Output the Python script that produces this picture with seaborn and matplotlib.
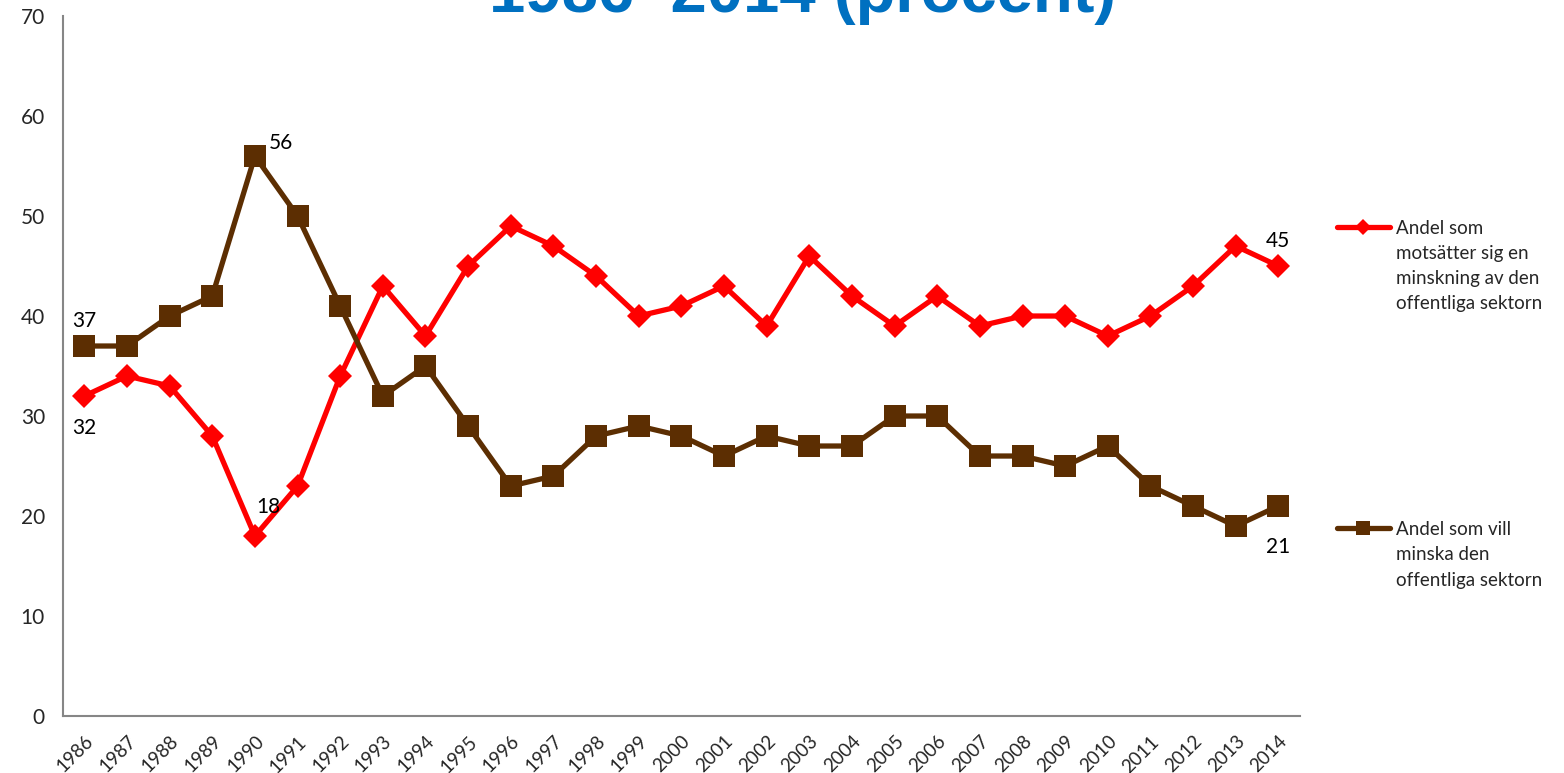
import numpy as np
import pandas as pd
import matplotlib
matplotlib.use("Agg")
import matplotlib.pyplot as plt
import seaborn as sns
from matplotlib.lines import Line2D

years = list(range(1986, 2015))
motsatter = [32, 34, 33, 28, 18, 23, 34, 43, 38, 45, 49, 47, 44, 40, 41,
             43, 39, 46, 42, 39, 42, 39, 40, 40, 38, 40, 43, 47, 45]
minska = [37, 37, 40, 42, 56, 50, 41, 32, 35, 29, 23, 24, 28, 29, 28,
          26, 28, 27, 27, 30, 30, 26, 26, 25, 27, 23, 21, 19, 21]
label_red = ["Andel som", "motsätter sig en", "minskning av den", "offentliga sektorn"]
label_brown = ["Andel som vill", "minska den", "offentliga sektorn"]
title = "1986–2014 (procent)"

red = "#FF0000"
brown = "#5C2E02"

sns.set_style("white")
plt.rcParams['font.family'] = ['Lato', 'DejaVu Sans']

df = pd.DataFrame({
    "pos": list(range(len(years))) * 2,
    "value": motsatter + minska,
    "serie": ["red"] * len(years) + ["brown"] * len(years),
})

fig = plt.figure(figsize=(15.64, 7.73), dpi=100)
ax = fig.add_axes([0.0403, 0.0737, 0.7907, 0.9056])

sns.lineplot(data=df, x="pos", y="value", hue="serie", style="serie",
             palette={"red": red, "brown": brown},
             markers={"red": "D", "brown": "s"}, dashes=False,
             linewidth=3.8, ax=ax, legend=False)
for line, ms in zip(ax.lines, [12, 16]):
    line.set_markersize(ms)
    line.set_markeredgewidth(0)

ax.set_xlim(-0.5, len(years) - 0.5)
ax.set_ylim(0, 70)
ax.set_yticks(range(0, 71, 10))
ax.set_xticks(range(len(years)))
ax.set_xticklabels(years, rotation=45, ha="right", rotation_mode="anchor", fontsize=13.5)
ax.set_xticks(np.arange(-0.5, len(years), 1), minor=True)
ax.tick_params(axis="x", which="major", length=0, pad=12)
ax.tick_params(axis="x", which="minor", length=7, color="#868686", direction="out")
ax.tick_params(axis="y", length=7, color="#868686", direction="out", labelsize=15, pad=6)
ax.set_xlabel("")
ax.set_ylabel("")
for s in ["top", "right"]:
    ax.spines[s].set_visible(False)
for s in ["left", "bottom"]:
    ax.spines[s].set_color("#868686")
    ax.spines[s].set_linewidth(1.5)

# data labels
lab = dict(fontsize=15, color="black")
ax.annotate(str(minska[0]), (0, minska[0]), xytext=(0, 11), textcoords="offset points", ha="center", va="bottom", **lab)
ax.annotate(str(motsatter[0]), (0, motsatter[0]), xytext=(0, -16), textcoords="offset points", ha="center", va="top", **lab)
ax.annotate(str(minska[4]), (4, minska[4]), xytext=(10, 2), textcoords="offset points", ha="left", va="bottom", **lab)
ax.annotate(str(motsatter[4]), (4, motsatter[4]), xytext=(10, 14), textcoords="offset points", ha="center", va="bottom", **lab)
ax.annotate(str(motsatter[-1]), (28, motsatter[-1]), xytext=(0, 11), textcoords="offset points", ha="center", va="bottom", **lab)
ax.annotate(str(minska[-1]), (28, minska[-1]), xytext=(0, -22), textcoords="offset points", ha="center", va="top", **lab)

# legends: sample line next to the first line of each label
blank = Line2D([], [], color="none")
leg_kw = dict(frameon=False, fontsize=13.5, handlelength=2.8, handletextpad=0.35,
              borderaxespad=0, borderpad=0, labelspacing=0.44, alignment="left")
h_red = Line2D([], [], color=red, lw=3.8, marker="D", ms=8, mew=0)
h_brown = Line2D([], [], color=brown, lw=3.8, marker="s", ms=10, mew=0)
leg1 = fig.legend(handles=[h_red] + [blank] * (len(label_red) - 1), labels=label_red,
                  loc="upper left", bbox_to_anchor=(0.855, 0.716), **leg_kw)
leg2 = fig.legend(handles=[h_brown] + [blank] * (len(label_brown) - 1), labels=label_brown,
                  loc="upper left", bbox_to_anchor=(0.855, 0.326), **leg_kw)

fig.text(0.513, 1 - 12 / 773, title, ha="center", va="baseline",
         fontsize=47, fontweight="bold", color="#0070C0",
         family=["Liberation Sans", "DejaVu Sans"])

fig.savefig("out.png", dpi=100)
